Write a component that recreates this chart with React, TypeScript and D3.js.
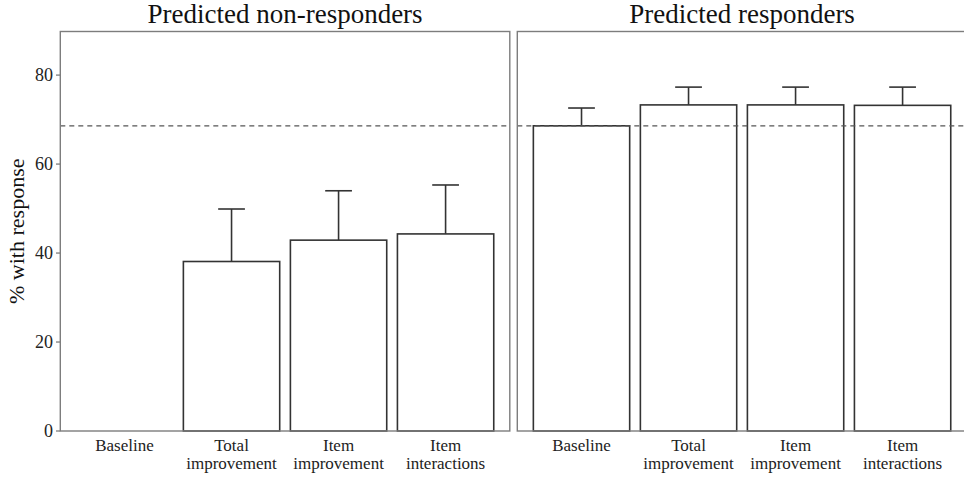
import React from "react";
import * as d3 from "d3";

// Response rates by model, one facet per predicted group
const categories = ["Baseline", "Total improvement", "Item improvement", "Item interactions"];
const categoryLines = [["Baseline"], ["Total", "improvement"], ["Item", "improvement"], ["Item", "interactions"]];
const panels = ["Predicted non-responders", "Predicted responders"];
const nonResponderValues = [0, 38.1, 42.9, 44.3];
const nonResponderUpper = [0, 49.9, 54.0, 55.3];
const responderValues = [68.6, 73.3, 73.3, 73.2];
const responderUpper = [72.6, 77.3, 77.3, 77.3];
const referenceLine = 68.6;
const yTicks = [0, 20, 40, 60, 80];

const W = 964;
const H = 478;
const top = 31.5;
const bottom = 431;
const panelW = 449.5;
const panelLefts = [60.3, 517.3];

export default function App() {
  const y = d3.scaleLinear().domain([0, 89.8]).range([bottom, top]);
  const series = [
    { values: nonResponderValues, upper: nonResponderUpper },
    { values: responderValues, upper: responderUpper },
  ];
  const font = "'Liberation Serif', 'Times New Roman', serif";
  const border = "#7d7d7d";
  const ink = "#333333";

  return (
    <svg width={W} height={H} style={{ position: "absolute", left: 0, top: 0 }} fontFamily={font}>
      <rect width={W} height={H} fill="#fff" />
      {panels.map((title, p) => {
        const x0 = panelLefts[p];
        // discrete x with ggplot-style 0.6 expansion on each side
        const unit = panelW / 4.2;
        const cx = (i: number) => x0 + (0.6 + i) * unit;
        const barW = 0.9 * unit;
        const ebW = 0.25 * unit;
        const s = series[p];
        return (
          <g key={title}>
            <text x={x0 + panelW / 2} y={22.5} textAnchor="middle" fontSize={27} fill="#111">
              {title}
            </text>
            {/* error bars first so the bars hide their lower half */}
            {s.values.map((v, i) =>
              v > 0 ? (
                <g key={"e" + i} stroke={ink} strokeWidth={1.6} fill="none">
                  <line x1={cx(i)} x2={cx(i)} y1={y(v)} y2={y(s.upper[i])} />
                  <line x1={cx(i) - ebW / 2} x2={cx(i) + ebW / 2} y1={y(s.upper[i])} y2={y(s.upper[i])} />
                </g>
              ) : null
            )}
            {s.values.map((v, i) =>
              v > 0 ? (
                <rect
                  key={"b" + i}
                  x={cx(i) - barW / 2}
                  y={y(v)}
                  width={barW}
                  height={bottom - y(v)}
                  fill="#fff"
                  stroke={ink}
                  strokeWidth={1.6}
                />
              ) : null
            )}
            <line
              x1={x0}
              x2={x0 + panelW}
              y1={y(referenceLine)}
              y2={y(referenceLine)}
              stroke="#555"
              strokeWidth={1.3}
              strokeDasharray="5,4"
            />
            <rect x={x0} y={top} width={panelW} height={bottom - top} fill="none" stroke={border} strokeWidth={1.4} />
            {categories.map((c, i) => (
              <text key={c} textAnchor="middle" fontSize={17} fill="#222">
                {categoryLines[i].map((ln, k) => (
                  <tspan key={k} x={cx(i)} y={451 + k * 18}>
                    {ln}
                  </tspan>
                ))}
              </text>
            ))}
          </g>
        );
      })}
      {yTicks.map((t) => (
        <g key={t}>
          <line x1={56} x2={60.3} y1={y(t)} y2={y(t)} stroke={border} strokeWidth={1.3} />
          <text x={53} y={y(t) + 6} textAnchor="end" fontSize={18} fill="#222">
            {t}
          </text>
        </g>
      ))}
      <text
        transform={`translate(24, ${(top + bottom) / 2}) rotate(-90)`}
        textAnchor="middle"
        fontSize={22}
        fill="#111"
      >
        % with response
      </text>
    </svg>
  );
}
